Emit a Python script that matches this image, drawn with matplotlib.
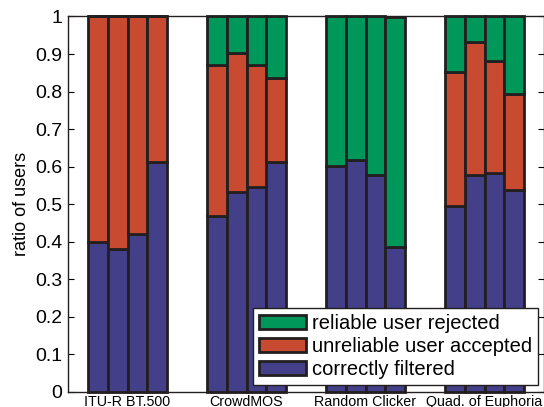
import matplotlib
matplotlib.use("Agg")
import matplotlib.pyplot as plt
import numpy as np

plt.rcParams['font.family'] = ['Liberation Sans', 'DejaVu Sans']

groups = ["ITU-R BT.500", "CrowdMOS", "Random Clicker", "Quad. of Euphoria"]
series_names = ["reliable user rejected", "unreliable user accepted", "correctly filtered"]

# segment heights, 4 bars per group
correct = [0.400, 0.380, 0.420, 0.612,
           0.470, 0.533, 0.547, 0.612,
           0.601, 0.619, 0.579, 0.386,
           0.495, 0.579, 0.584, 0.539]
unreliable_acc = [0.600, 0.620, 0.580, 0.388,
                  0.402, 0.369, 0.325, 0.223,
                  0.000, 0.000, 0.000, 0.000,
                  0.357, 0.353, 0.297, 0.255]
reliable_rej = [0.000, 0.000, 0.000, 0.000,
                0.128, 0.098, 0.128, 0.165,
                0.399, 0.381, 0.421, 0.614,
                0.148, 0.068, 0.119, 0.206]

c_green = "#00975A"
c_red = "#C84A31"
c_blue = "#433F89"
edge = "#231F20"

fig = plt.figure(figsize=(5.44, 4.07), dpi=100)
ax = fig.add_axes([68/544, 1-392/407, 476/544, (392-16.5)/407])

n_per = 4
bw = 0.166
offsets = (np.arange(n_per) - (n_per-1)/2) * bw
xs = np.concatenate([g + 1 + offsets for g in range(len(groups))])
corr = np.array(correct)
ua = np.array(unreliable_acc)
rr = np.array(reliable_rej)
top_ua = corr + ua
rr_plot = np.where(rr > 0, 1.0 - top_ua, 0.0)

kw = dict(width=bw, edgecolor=edge, linewidth=2.0, clip_on=False)
b1 = ax.bar(xs, corr, color=c_blue, **kw)
b2 = ax.bar(xs, ua, bottom=corr, color=c_red, **kw)
b3 = ax.bar(xs, rr_plot, bottom=top_ua, color=c_green, **kw)

ax.set_xlim(0.5, 4.5)
ax.set_ylim(0, 1)
ax.set_yticks(np.arange(0, 1.01, 0.1))
ax.set_yticklabels(["0", "0.1", "0.2", "0.3", "0.4", "0.5", "0.6", "0.7", "0.8", "0.9", "1"])
ax.set_xticks(np.arange(1, 5))
ax.set_xticklabels(groups, fontsize=10.3)
ax.tick_params(axis='y', direction='in', length=4, right=True, labelsize=14, pad=4, width=0.8)
ax.tick_params(axis='x', length=0, pad=2)
ax.set_ylabel("ratio of users", fontsize=13, labelpad=4)
for s in ax.spines.values():
    s.set_linewidth(1.0)
    s.set_color(edge)

leg = ax.legend([b3, b2, b1], series_names, loc='lower right',
                bbox_to_anchor=(0.987, 0.0186), borderaxespad=0,
                fontsize=14.5, fancybox=False, framealpha=1,
                edgecolor=edge, handlelength=2.3, handleheight=0.75,
                labelspacing=0.2, handletextpad=0.3, borderpad=0.3)
leg.get_frame().set_linewidth(1.0)
leg.set_zorder(5)

fig.savefig("out.png", dpi=100)
